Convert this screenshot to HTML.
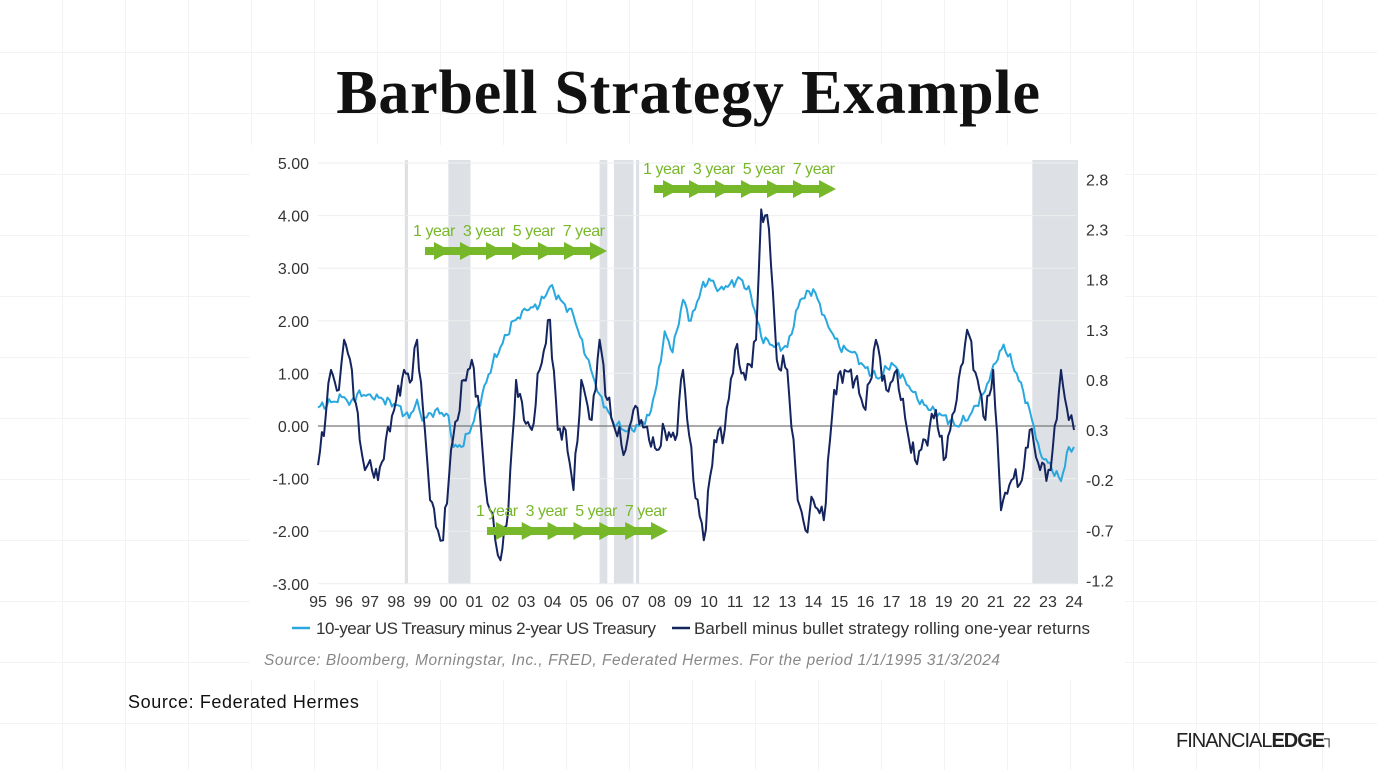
<!DOCTYPE html>
<html><head><meta charset="utf-8"><style>
body{margin:0;width:1377px;height:770px;overflow:hidden;background:#fff;font-family:"Liberation Sans",sans-serif;position:relative}
.bg{position:absolute;inset:0;background-image:linear-gradient(#f3f3f3 1px,transparent 1px),linear-gradient(90deg,#f3f3f3 1px,transparent 1px);background-size:63px 61px;background-position:-1px 52px}
.t{position:absolute;white-space:nowrap}
</style></head><body>
<div class="bg"></div>
<div style="position:absolute;left:250px;top:145px;width:875px;height:535px;background:#fff"></div>
<div class="t" style="left:0;width:1377px;text-align:center;top:58px;font-family:'Liberation Serif',serif;font-weight:bold;font-size:62px;letter-spacing:0.8px;color:#111">Barbell Strategy Example</div>
<svg id="s" width="1377" height="770" style="position:absolute;left:0;top:0" font-family="Liberation Sans, sans-serif"></svg>
<div class="t" style="left:128px;top:692px;font-size:18px;letter-spacing:0.6px;color:#111">Source: Federated Hermes</div>
<div class="t" style="left:1176px;top:730px;font-size:20px;color:#222;letter-spacing:-1px"><span style="font-weight:300">FINANCIAL</span><b>EDGE</b><span style="font-size:14px;vertical-align:top">&#x2510;</span></div>
<script>
const s=document.getElementById('s');let h='';
const X=y=>318+(y-1995)*26.07, YL=v=>426-v*52.6, YR=v=>430-(v-0.3)*100.25;
[[1998.33,1998.45],[2000.0,2000.85],[2005.8,2006.1],[2006.35,2007.1],[2007.2,2007.32],[2022.4,2024.15]].forEach(r=>{h+=`<rect x="${X(r[0])}" y="160" width="${X(r[1])-X(r[0])}" height="424" fill="#dde1e5"/>`});
for(let v=-3;v<=5;v++){let y=YL(v);h+=`<line x1="318" x2="1076" y1="${y}" y2="${y}" stroke="${v==0?'#777':'#eeeeee'}" stroke-width="${v==0?1.2:1}"/>`;
h+=`<text x="309" y="${y+6}" text-anchor="end" font-size="16" fill="#333">${v.toFixed(2)}</text>`}
[2.8,2.3,1.8,1.3,0.8,0.3,-0.2,-0.7,-1.2].forEach(v=>{h+=`<text x="1086" y="${YR(v)+6}" font-size="16" fill="#333">${v.toFixed(1)}</text>`});
for(let y=1995;y<=2024;y++){h+=`<text x="${X(y)}" y="607" text-anchor="middle" font-size="16" fill="#333">${String(y%100).padStart(2,'0')}</text>`}
const lb=[95,.35,95.5,.45,96,.55,96.2,.4,96.5,.6,97,.6,97.5,.5,98,.4,98.5,.15,98.8,.5,99,.1,99.5,.3,100,.2,100.2,-.4,100.5,-.4,100.9,0,101.3,.6,101.7,1.2,102,1.5,102.5,2,103,2.2,103.5,2.3,103.9,2.65,104.3,2.4,104.8,2.1,105.3,1.3,105.8,.6,106.3,.1,106.8,-.1,107.3,0,107.7,.2,108,.8,108.3,1.8,108.6,1.4,109,2.4,109.3,2,109.7,2.6,110,2.8,110.4,2.6,110.8,2.7,111.2,2.8,111.6,2.5,112,1.7,112.5,1.5,113,1.5,113.5,2.4,114,2.6,114.5,2,115,1.5,115.5,1.4,116,1.1,116.5,.9,117,1.2,117.5,.9,118,.5,118.5,.3,119,.2,119.5,0,120,.2,120.5,.6,121,1.2,121.3,1.55,121.8,1,122.3,.3,122.7,-.5,123,-.7,123.5,-1.05,123.8,-.4,124,-.4];
const nv=[95,-.05,95.3,.45,95.5,.9,95.8,.7,96,1.2,96.3,.9,96.6,.2,96.8,-.1,97,0,97.3,-.2,97.6,.2,98,.6,98.3,.9,98.6,.8,98.8,1.2,99.1,.3,99.3,-.4,99.6,-.7,99.8,-.8,100.1,.1,100.6,.8,100.9,1,101.2,.5,101.4,-.2,101.6,-.5,101.8,-.8,102,-1,102.3,-.5,102.6,.8,102.9,.4,103.2,.3,103.5,.9,103.9,1.4,104.2,.3,104.5,.3,104.8,-.3,105.1,.8,105.5,.4,105.8,1.2,106.1,.6,106.4,.3,106.8,.1,107.1,.5,107.4,.4,107.7,.2,108,.1,108.3,.3,108.7,.2,109,.9,109.4,-.2,109.8,-.8,110.2,.2,110.6,.3,111,1.1,111.4,.8,111.8,1.2,112,2.5,112.3,2.3,112.6,1,113,.9,113.4,-.4,113.7,-.7,114,-.4,114.4,-.6,114.8,.7,115.2,.9,115.6,.8,116,.5,116.4,1.2,116.8,.7,117.2,.9,117.6,.3,117.9,0,118.3,.2,118.7,.5,119,0,119.5,.6,119.9,1.3,120.3,.8,120.6,.4,120.9,.9,121.2,-.5,121.6,-.2,122,-.2,122.3,.3,122.7,-.1,123.1,-.1,123.5,.9,123.8,.4,124,.3];
function pl(a,f,c,amp){let p=[];let k=0;for(let i=0;i<a.length-2;i+=2){let x0=a[i],x1=a[i+2],v0=a[i+1],v1=a[i+3];let n=Math.max(1,Math.round((x1-x0)*12));for(let j=0;j<n;j++){let t=j/n;let v=v0+(v1-v0)*t+(j?amp*Math.sin(k*2.7)*Math.cos(k*1.3):0);k++;p.push(X(x0+(x1-x0)*t+1900).toFixed(1)+','+f(v).toFixed(1))}}
p.push(X(a[a.length-2]+1900).toFixed(1)+','+f(a[a.length-1]).toFixed(1));return `<polyline points="${p.join(' ')}" fill="none" stroke="${c}" stroke-width="2" stroke-linejoin="round"/>`}
h+=pl(lb,YL,'#29a8e0',0.1);h+=pl(nv,YR,'#14245e',0.12);
function arr(x0,x1,y,tx,ty){const g='#77b82a';h+=`<text x="${tx}" y="${ty}" font-size="16" fill="${g}" textLength="${x1-x0+10}">1 year&#160; 3 year&#160; 5 year&#160; 7 year</text>`;
h+=`<rect x="${x0}" y="${y-4}" width="${x1-x0-10}" height="8" fill="${g}"/>`;const st=(x1-x0)/7;for(let i=1;i<=7;i++){let xe=x0+st*i;h+=`<polygon points="${xe-17},${y-9} ${xe},${y} ${xe-17},${y+9}" fill="${g}"/>`}}
arr(425,607,251,413,236);arr(654,836,189,643,174);arr(487,668,531,476,516);
h+=`<line x1="292" x2="310" y1="628" y2="628" stroke="#29a8e0" stroke-width="2.5"/><text x="316" y="634" font-size="17" fill="#333" textLength="340">10-year US Treasury minus 2-year US Treasury</text>`;
h+=`<line x1="672" x2="690" y1="628" y2="628" stroke="#14245e" stroke-width="2.5"/><text x="694" y="634" font-size="17" fill="#333" textLength="396">Barbell minus bullet strategy rolling one-year returns</text>`;
h+=`<text x="264" y="665" font-size="15.5" font-style="italic" fill="#888" textLength="736">Source: Bloomberg, Morningstar, Inc., FRED, Federated Hermes. For the period 1/1/1995 31/3/2024</text>`;
s.innerHTML=h;
</script>
</body></html>
